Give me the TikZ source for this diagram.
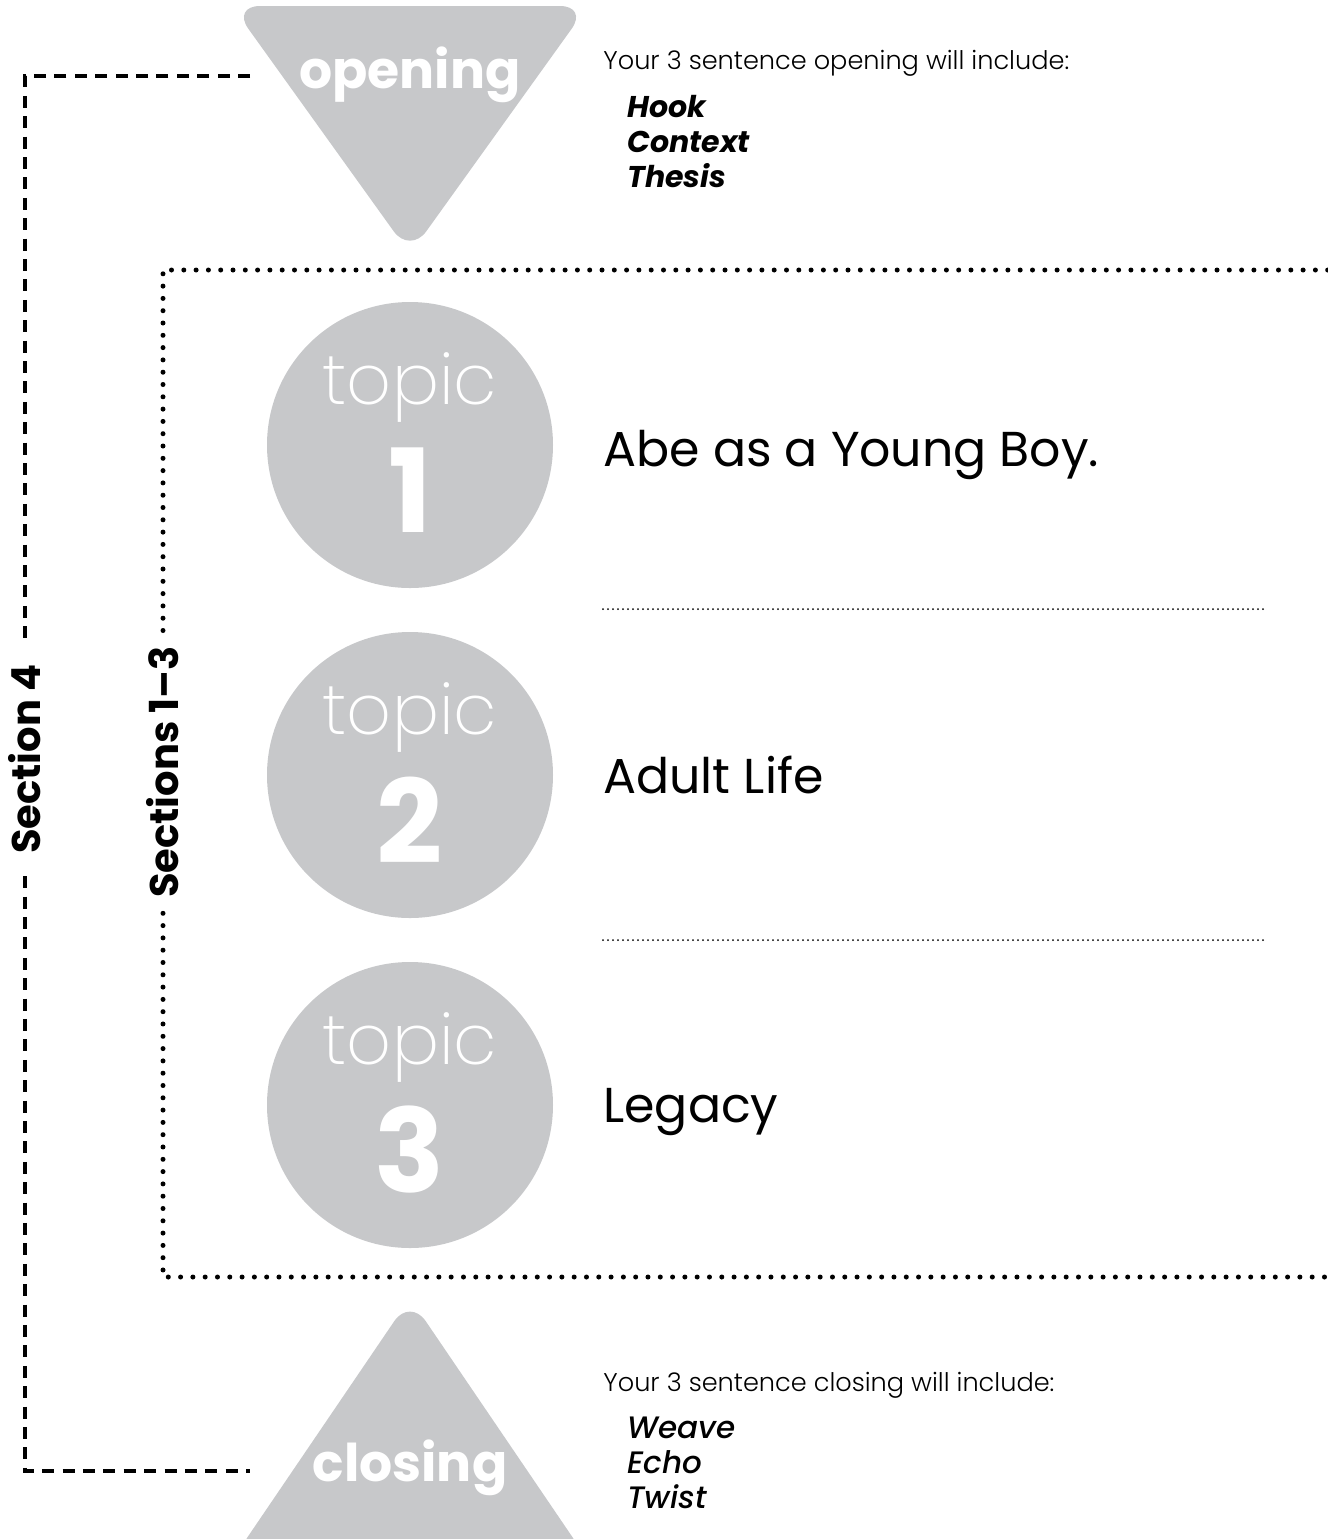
\documentclass[tikz,border=0pt]{standalone}
\usepackage{fontspec}
\setmainfont{Poppins}
\newfontfamily\lightfont{Poppins Light}
\newfontfamily\thinfont{Poppins ExtraLight}
\newfontfamily\medfont{Poppins Medium}
\definecolor{shade}{HTML}{C7C8CA}
\tikzset{
  tri/.style={fill=shade,rounded corners=14pt},
  disc/.style={circle,fill=shade,minimum size=143pt,inner sep=0pt},
  word/.style={text=white,font=\thinfont\fontsize{35}{35}\selectfont},
  digit/.style={text=white,font=\bfseries\fontsize{58}{58}\selectfont},
  tag/.style={text=white,font=\bfseries\fontsize{26}{26}\selectfont},
  heading/.style={anchor=base west,inner sep=0pt,font=\fontsize{24.5}{24.5}\selectfont},
  intro/.style={anchor=base west,inner sep=0pt,font=\lightfont\fontsize{12.8}{12.8}\selectfont},
  item/.style={anchor=base west,inner sep=0pt,align=left},
  sideword/.style={rotate=90,fill=white,font=\bfseries\fontsize{20}{20}\selectfont},
  dashline/.style={line width=2pt,dash pattern=on 6pt off 4.2pt},
  dotline/.style={line width=2.5pt,line cap=round,dash pattern=on 0pt off 6.15pt},
  rule/.style={line width=1pt,line cap=round,dash pattern=on 0pt off 2.5pt}
}
\begin{document}
\begin{tikzpicture}[x=0.5pt,y=-0.5pt]
  \useasboundingbox (0,0) rectangle (1328,1539);
  \clip (0,0) rectangle (1328,1539);
  % opening and closing
  \fill[tri] (232,6) -- (588,6) -- (410,254) -- cycle;
  \fill[tri] (232,1560) -- (410,1298) -- (588,1560) -- cycle;
  \node[tag] (open) at (410,75) {opening};
  \node[tag] (close) at (410,1468) {closing};
  \coordinate (openleft) at (250,76);
  \coordinate (closeleft) at (250,1471);
  \node[intro] (opentext) at (603,69) {Your 3 sentence opening will include:};
  \node[item,font=\bfseries\itshape\fontsize{15}{17.5}\selectfont] (openlist) at (627,187) {Hook\\Context\\Thesis};
  \node[intro] (closetext) at (603,1391) {Your 3 sentence closing will include:};
  \node[item,font=\medfont\itshape\fontsize{15.5}{17.5}\selectfont] (closelist) at (627,1508) {Weave\\Echo\\Twist};
  % topics
  \node[disc] (t1) at (410,445) {};
  \node[disc] (t2) at (410,775) {};
  \node[disc] (t3) at (410,1105) {};
  \node[word] at (410,387) {topic};
  \node[word] at (410,717) {topic};
  \node[word] at (410,1047) {topic};
  \node[digit] at (410,490) {1};
  \node[digit] at (410,820) {2};
  \node[digit] at (410,1150) {3};
  \node[heading] (h1) at (603,466) {Abe as a Young Boy.};
  \node[heading] (h2) at (603,793) {Adult Life};
  \node[heading] (h3) at (603,1122) {Legacy};
  \draw[rule] (603,609) -- (1265,609);
  \draw[rule] (603,940) -- (1265,940);
  % sections
  \node[sideword,inner xsep=11pt] (s4) at (25,759) {Section 4};
  \node[sideword,inner xsep=7.5pt] (s13) at (163,772) {Sections 1–3};
  \draw[dashline] (openleft) -| (s4.east);
  \draw[dashline] (s4.west) |- (closeleft);
  \coordinate (topright) at (1340,270);
  \coordinate (bottomright) at (1340,1277);
  \draw[dotline] (topright) -| (s13.east);
  \draw[dotline] (s13.west) |- (bottomright);
\end{tikzpicture}
\end{document}
